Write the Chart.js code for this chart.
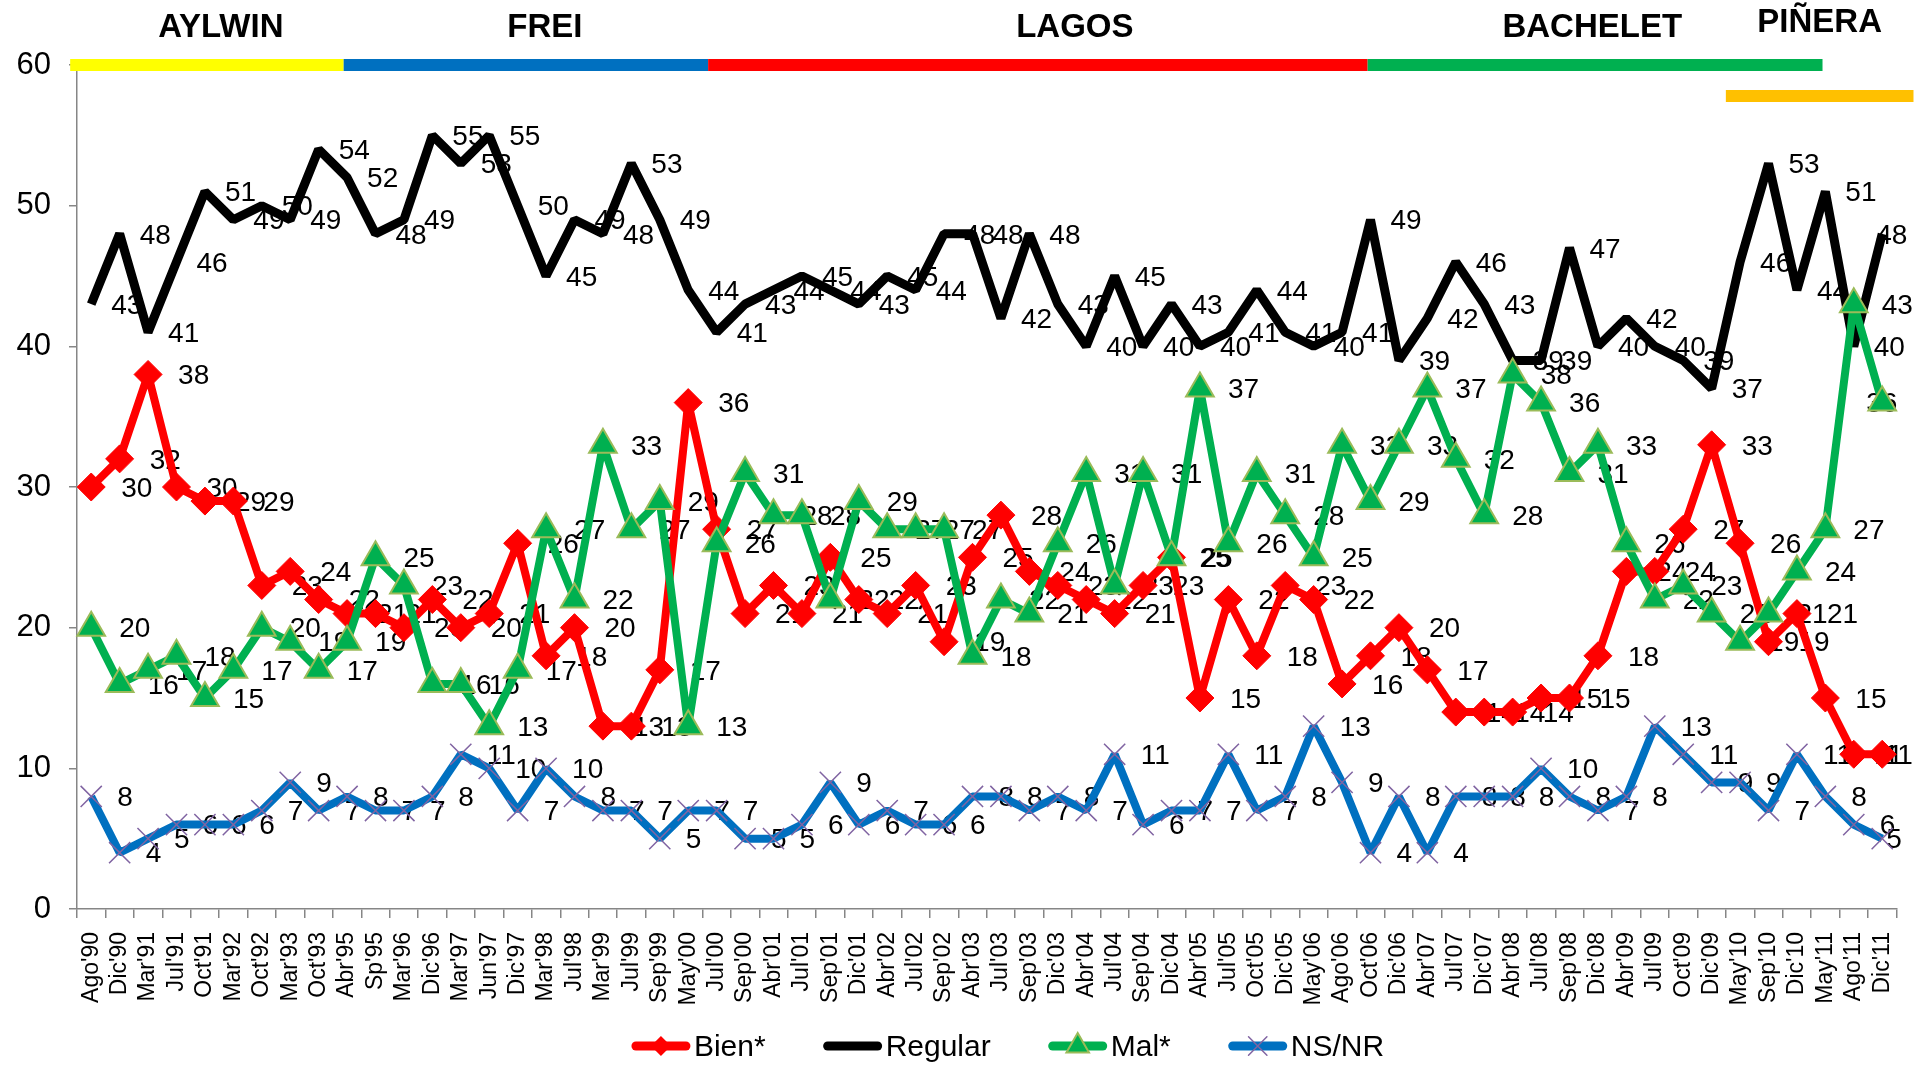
<!DOCTYPE html>
<html>
<head>
<meta charset="utf-8">
<script src="https://cdn.jsdelivr.net/npm/chart.js@4.4.1/dist/chart.umd.min.js"></script>
<style>
  html, body { margin: 0; padding: 0; background: #ffffff; }
  #wrap { width: 1924px; height: 1065px; position: relative; }
  canvas { display: block; }
</style>
</head>
<body>
<div id="wrap"><canvas id="c" width="1924" height="1065"></canvas></div>
<script>
const categories = ["Ago'90","Dic'90","Mar'91","Jul'91","Oct'91","Mar'92","Oct'92","Mar'93","Oct'93","Abr'95","Sp'95","Mar'96","Dic'96","Mar'97","Jun'97","Dic'97","Mar'98","Jul'98","Mar'99","Jul'99","Sep'99","May'00","Jul'00","Sep'00","Abr'01","Jul'01","Sep'01","Dic'01","Abr'02","Jul'02","Sep'02","Abr'03","Jul'03","Sep'03","Dic'03","Abr'04","Jul'04","Sep'04","Dic'04","Abr'05","Jul'05","Oct'05","Dic'05","May'06","Ago'06","Oct'06","Dic'06","Abr'07","Jul'07","Dic'07","Abr'08","Jul'08","Sep'08","Dic'08","Abr'09","Jul'09","Oct'09","Dic'09","May'10","Sep'10","Dic'10","May'11","Ago'11","Dic'11"];

const bien = [30,32,38,30,29,29,23,24,22,21,21,20,22,20,21,26,18,20,13,13,17,36,27,21,23,21,25,22,21,23,19,25,28,24,23,22,21,23,25,15,22,18,23,22,16,18,20,17,14,14,14,15,15,18,24,24,27,33,26,19,21,15,11,11];

const regular = [43,48,41,46,51,49,50,49,54,52,48,49,55,53,55,50,45,49,48,53,49,44,41,43,44,45,44,43,45,44,48,48,42,48,43,40,45,40,43,40,41,44,41,40,41,49,39,42,46,43,39,39,47,40,42,40,39,37,46,53,44,51,40,48];

const mal = [20,16,17,18,15,17,20,19,17,19,25,23,16,16,13,17,27,22,33,27,29,13,26,31,28,28,22,29,27,27,27,18,22,21,26,31,23,31,25,37,26,31,28,25,33,29,33,37,32,28,38,36,31,33,26,22,23,21,19,21,24,27,43,36];

const nsnr = [8,4,5,6,6,6,7,9,7,8,7,7,8,11,10,7,10,8,7,7,5,7,7,5,5,6,9,6,7,6,6,8,8,7,8,7,11,6,7,7,11,7,8,13,9,4,8,4,8,8,8,10,8,7,8,13,11,9,9,7,11,8,6,5];

const seriesNames = ["Bien*", "Regular", "Mal*", "NS/NR"];
const yTicks = [0, 10, 20, 30, 40, 50, 60];

// Presidential periods, in category-index units along the x axis
const periodNames = ["AYLWIN", "FREI", "LAGOS", "BACHELET", "PIÑERA"];
const periodStart = [-0.74, 8.88, 21.7, 44.9, 57.5];
const periodEnd = [8.88, 21.7, 44.9, 60.9, 64.1];
const periodRow = [0, 0, 0, 0, 1];
const periodLabelAt = [4.56, 15.96, 34.6, 52.8, 60.8];
const periodColors = ["#FFFF00", "#0070C0", "#FF0000", "#00B050", "#FFC000"];

const FONT = "'Liberation Sans', Arial, sans-serif";

function drawMarker(ctx, style, x, y, r, fill, stroke, bw) {
  ctx.save();
  ctx.beginPath();
  if (style === 'rectRot') {
    ctx.moveTo(x, y - r); ctx.lineTo(x + r, y); ctx.lineTo(x, y + r); ctx.lineTo(x - r, y); ctx.closePath();
    ctx.fillStyle = fill; ctx.fill();
  } else if (style === 'triangle') {
    const s = Math.sqrt(3) / 2 * r;
    ctx.moveTo(x, y - r); ctx.lineTo(x + s, y + r / 2); ctx.lineTo(x - s, y + r / 2); ctx.closePath();
    ctx.fillStyle = fill; ctx.fill();
    ctx.lineWidth = bw; ctx.strokeStyle = stroke; ctx.stroke();
  } else if (style === 'crossRot') {
    const d = r * Math.SQRT1_2;
    ctx.moveTo(x - d, y - d); ctx.lineTo(x + d, y + d);
    ctx.moveTo(x - d, y + d); ctx.lineTo(x + d, y - d);
    ctx.lineWidth = bw; ctx.strokeStyle = stroke; ctx.stroke();
  }
  ctx.restore();
}

const valueLabels = {
  id: 'valueLabels',
  beforeDatasetsDraw(chart) {
    const ctx = chart.ctx;
    ctx.save();
    ctx.font = "28px " + FONT;
    ctx.fillStyle = "#000";
    ctx.textAlign = "left";
    ctx.textBaseline = "middle";
    chart.data.datasets.forEach((ds, i) => {
      const meta = chart.getDatasetMeta(i);
      const last = meta.data.length - 1;
      meta.data.forEach((pt, j) => {
        const off = j === last ? ds.lastLabelOffset : ds.labelOffset;
        ctx.fillText(String(ds.data[j]), pt.x + off, pt.y + 2);
      });
    });
    ctx.restore();
  }
};

const periods = {
  id: 'periods',
  afterDraw(chart) {
    const ctx = chart.ctx;
    const xs = chart.scales.x;
    ctx.save();
    periodNames.forEach((name, i) => {
      const x0 = xs.getPixelForValue(periodStart[i]);
      const x1 = xs.getPixelForValue(periodEnd[i]);
      const y0 = periodRow[i] === 0 ? 59 : 90;
      ctx.fillStyle = periodColors[i];
      ctx.fillRect(x0, y0, x1 - x0, 12);
      ctx.font = "bold 33px " + FONT;
      ctx.fillStyle = "#000";
      ctx.textAlign = "center";
      ctx.textBaseline = "middle";
      ctx.fillText(name, xs.getPixelForValue(periodLabelAt[i]), periodRow[i] === 0 ? 28 : 23);
    });
    ctx.restore();
  }
};

const customLegend = {
  id: 'customLegend',
  afterDraw(chart) {
    const ctx = chart.ctx;
    ctx.save();
    ctx.font = "30px " + FONT;
    const symW = 58, gapSym = 4, gapItem = 58;
    const items = chart.data.datasets.map(ds => ({ ds, w: symW + gapSym + ctx.measureText(ds.label).width }));
    const total = items.reduce((a, it) => a + it.w, 0) + gapItem * (items.length - 1);
    let x = 1008 - total / 2;
    const y = 1046;
    items.forEach(it => {
      const ds = it.ds;
      ctx.beginPath();
      ctx.lineCap = 'round';
      ctx.lineWidth = 9;
      ctx.strokeStyle = ds.borderColor;
      ctx.moveTo(x + 4, y); ctx.lineTo(x + symW - 4, y);
      ctx.stroke();
      if (ds.pointRadius > 0) {
        drawMarker(ctx, ds.pointStyle, x + symW / 2, y, ds.legendMarker, ds.pointBackgroundColor, ds.pointBorderColor, ds.pointBorderWidth);
      }
      ctx.fillStyle = "#000";
      ctx.textAlign = "left";
      ctx.textBaseline = "middle";
      ctx.fillText(ds.label, x + symW + gapSym, y + 2);
      x += it.w + gapItem;
    });
    ctx.restore();
  }
};

new Chart(document.getElementById('c'), {
  type: 'line',
  data: {
    labels: categories,
    datasets: [
      { label: seriesNames[0], data: bien, borderColor: '#FF0000', backgroundColor: '#FF0000', borderWidth: 8,
        pointStyle: 'rectRot', pointRadius: 14, pointBackgroundColor: '#FF0000', pointBorderColor: '#FF0000', pointBorderWidth: 1,
        order: 4, labelOffset: 30, lastLabelOffset: -8, legendMarker: 10 },
      { label: seriesNames[1], data: regular, borderColor: '#000000', backgroundColor: '#000000', borderWidth: 9,
        pointRadius: 0, order: 3, labelOffset: 20, lastLabelOffset: -6, legendMarker: 0 },
      { label: seriesNames[2], data: mal, borderColor: '#00B050', backgroundColor: '#00B050', borderWidth: 8,
        pointStyle: 'triangle', pointRadius: 16, pointBackgroundColor: '#00B050', pointBorderColor: '#9BBB59', pointBorderWidth: 2,
        order: 2, labelOffset: 28, lastLabelOffset: -16, legendMarker: 13 },
      { label: seriesNames[3], data: nsnr, borderColor: '#0070C0', backgroundColor: '#0070C0', borderWidth: 8,
        pointStyle: 'crossRot', pointRadius: 15, pointBackgroundColor: '#8064A2', pointBorderColor: '#8064A2', pointBorderWidth: 1.5,
        order: 1, labelOffset: 26, lastLabelOffset: 4, legendMarker: 13 }
    ]
  },
  options: {
    responsive: false,
    animation: false,
    devicePixelRatio: 1,
    layout: { padding: { top: 65, right: 24, bottom: 56, left: 0 } },
    elements: { line: { tension: 0, borderJoinStyle: 'bevel' } },
    plugins: { legend: { display: false }, tooltip: { enabled: false } },
    scales: {
      x: {
        offset: true,
        grid: { offset: true, drawOnChartArea: false, tickLength: 9, color: '#868686', lineWidth: 1.5 },
        border: { color: '#868686', width: 1.5 },
        ticks: { autoSkip: false, maxRotation: 90, minRotation: 90, padding: 14, color: '#000', font: { family: FONT, size: 23 } },
        afterFit(s) { s.height = 100; }
      },
      y: {
        min: 0, max: 60,
        afterBuildTicks(s) { s.ticks = yTicks.map(v => ({ value: v })); },
        grid: { drawOnChartArea: false, tickLength: 8, color: '#868686', lineWidth: 1.5 },
        border: { color: '#868686', width: 1.5 },
        ticks: { padding: 18, color: '#000', font: { family: FONT, size: 31 } },
        afterFit(s) { s.width = 77; }
      }
    }
  },
  plugins: [valueLabels, periods, customLegend]
});
</script>
</body>
</html>
